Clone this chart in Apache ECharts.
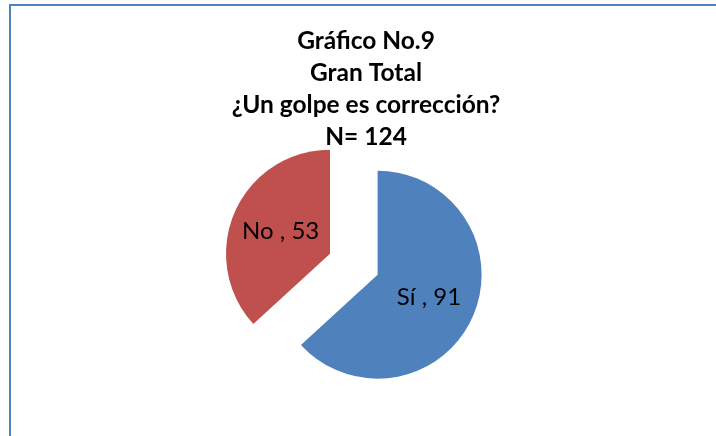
<!DOCTYPE html>
<html>
<head>
<meta charset="utf-8">
<script src="https://cdn.jsdelivr.net/npm/echarts@6/dist/echarts.min.js"></script>
<style>
html,body{margin:0;padding:0;background:#fff;}
#chart{width:716px;height:436px;}
</style>
</head>
<body>
<div id="chart"></div>
<script>
const categories = ['Sí', 'No'];
const values = [91, 53];
const colors = ['#4F81BD', '#C0504D'];
const titleLines = ['Gráfico No.9', 'Gran Total', '¿Un golpe es corrección?', 'N= 124'];

const chart = echarts.init(document.getElementById('chart'), null, {renderer: 'canvas'});
chart.setOption({
  animation: false,
  backgroundColor: '#ffffff',
  graphic: [
    {
      type: 'rect',
      shape: {x: 10, y: 5, width: 800, height: 600},
      style: {fill: 'none', stroke: '#4F81BD', lineWidth: 2},
      silent: true
    },
    {
      type: 'text',
      x: 366,
      y: 25,
      style: {
        text: titleLines.join('\n'),
        fontFamily: 'Lato',
        fontWeight: 'bold',
        fontSize: 24.5,
        lineHeight: 32,
        fill: '#000000',
        align: 'center',
        verticalAlign: 'top'
      },
      silent: true
    }
  ],
  series: [{
    type: 'pie',
    center: [353.8, 264.2],
    radius: 104,
    startAngle: 90,
    clockwise: true,
    selectedMode: 'multiple',
    selectedOffset: 26,
    avoidLabelOverlap: false,
    label: {
      show: true,
      position: 'inside',
      formatter: '{b} , {c}',
      fontFamily: 'Lato',
      fontSize: 24,
      color: '#000000',
      padding: [10, 0, 0, 2]
    },
    labelLine: {show: false},
    emphasis: {disabled: true},
    data: categories.map((c, i) => ({
      name: c,
      value: values[i],
      selected: true,
      itemStyle: {color: colors[i]}
    }))
  }]
});
</script>
</body>
</html>
